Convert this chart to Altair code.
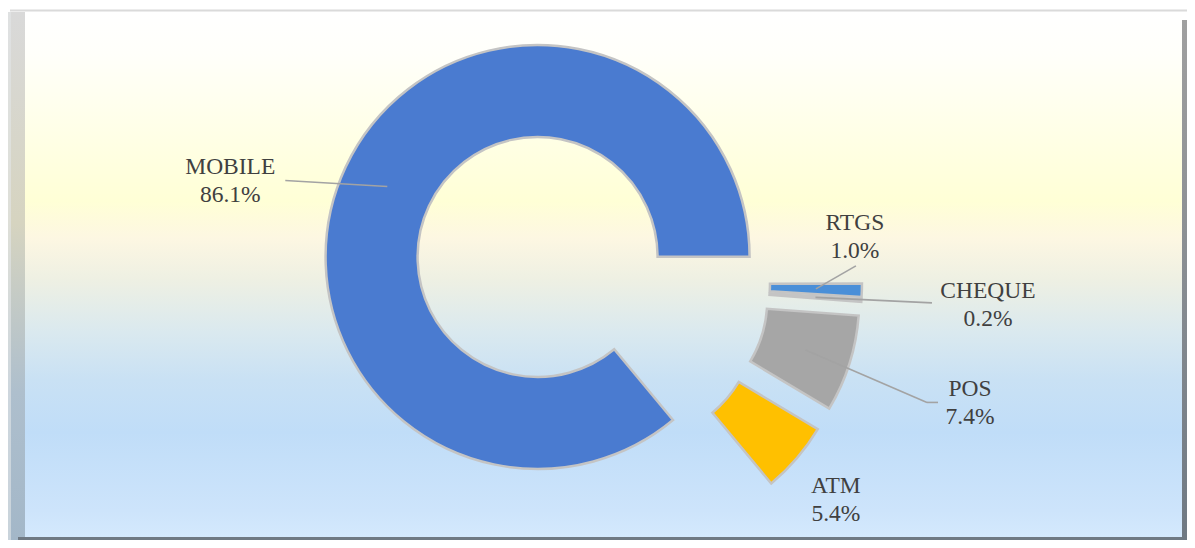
import math
import altair as alt
import pandas as pd

# ---------------- data ----------------
categories = ["MOBILE", "RTGS", "CHEQUE", "POS", "ATM"]
shares = [86.1, 1.0, 0.2, 7.4, 5.4]
pct_labels = ["86.1%", "1.0%", "0.2%", "7.4%", "5.4%"]
colors = ["#4a7bd0", "#4a8fd8", "#e6e6e6", "#a6a6a6", "#ffc000"]

# ---------------- layout / style ----------------
W, H = 1179, 532
CX, CY = 583, 274          # donut centre
R_IN, R_OUT = 120, 212
EXPLODE = 59               # every slice pulled out by this many px
R_ANCHOR = (R_IN + R_OUT) / 2 + EXPLODE
START = math.radians(140.3)
# label block offsets from the slice anchor, leader end offsets from label
label_dx = [-157, 39, 172.5, 164.5, 74]
label_dy = [-6, -53, 6.5, 52.5, 71]
lead_dx = [55, 1, -56, -43, 0]
lead_dy = [0, 30, -1, 0, 0]
has_lead = [1, 1, 1, 1, 0]
tail = [0, 0, 0, 11, 0]

FONT = "Liberation Serif"
TXT = "#404040"

df = pd.DataFrame({
    "category": categories,
    "share": shares,
    "pct": pct_labels,
    "color": colors,
    "order": list(range(len(categories))),
    "ldx": label_dx, "ldy": label_dy,
    "edx": lead_dx, "edy": lead_dy,
    "lead": has_lead, "tail": tail,
})
total = sum(shares)

base = alt.Chart(df).transform_window(
    cum="sum(share)", sort=[alt.SortField("order")], frame=[None, 0]
).transform_joinaggregate(
    total="sum(share)"
).transform_calculate(
    cum0="datum.cum - datum.share",
    mid=f"{START} + 2*PI*(datum.cum - datum.share/2)/datum.total",
    cx=f"{CX} + {EXPLODE}*sin(datum.mid)",
    cy=f"{CY} - {EXPLODE}*cos(datum.mid)",
    ax=f"{CX} + {R_ANCHOR}*sin(datum.mid)",
    ay=f"{CY} - {R_ANCHOR}*cos(datum.mid)",
    lx="datum.ax + datum.ldx",
    ly="datum.ay + datum.ldy",
    ex="datum.lx + datum.edx",
    ey="datum.ly + datum.edy",
    tx="datum.ex + datum.tail",
)

theta_scale = alt.Scale(domain=[0, total], range=[START, START + 2 * math.pi], nice=False)

arcs = base.mark_arc(
    innerRadius=R_IN, outerRadius=R_OUT, stroke="#c4c4c4", strokeWidth=2.5
).encode(
    x=alt.X("cx:Q", scale=None, axis=None, stack=False),
    y=alt.Y("cy:Q", scale=None, axis=None, stack=False),
    theta=alt.Theta("cum0:Q", scale=theta_scale),
    theta2="cum:Q",
    color=alt.Color("color:N", scale=None),
)

leaders = base.transform_filter("datum.lead == 1").mark_rule(
    color="#a3a3a3", strokeWidth=1.6
).encode(
    x=alt.X("ax:Q", scale=None, axis=None),
    y=alt.Y("ay:Q", scale=None, axis=None),
    x2="ex:Q",
    y2="ey:Q",
)

tails = base.transform_filter("datum.tail > 0").mark_rule(
    color="#a3a3a3", strokeWidth=1.6
).encode(
    x=alt.X("ex:Q", scale=None, axis=None),
    y=alt.Y("ey:Q", scale=None, axis=None),
    x2="tx:Q",
    y2="ey:Q",
)

names = base.mark_text(
    font=FONT, fontSize=23.5, color=TXT, align="center", baseline="alphabetic", dy=-6
).encode(
    x=alt.X("lx:Q", scale=None, axis=None),
    y=alt.Y("ly:Q", scale=None, axis=None),
    text="category:N",
)

pcts = base.mark_text(
    font=FONT, fontSize=23.5, color=TXT, align="center", baseline="alphabetic", dy=22
).encode(
    x=alt.X("lx:Q", scale=None, axis=None),
    y=alt.Y("ly:Q", scale=None, axis=None),
    text="pct:N",
)

# ---------------- frame decoration ----------------
one = alt.Data(values=[{"k": 1}])

bg_grad = alt.LinearGradient(
    gradient="linear", x1=0, y1=0, x2=0, y2=1,
    stops=[
        alt.GradientStop(offset=0.0, color="#ffffff"),
        alt.GradientStop(offset=0.08, color="#fffffa"),
        alt.GradientStop(offset=0.36, color="#ffffd6"),
        alt.GradientStop(offset=0.43, color="#fdf7e2"),
        alt.GradientStop(offset=0.51, color="#eef0e3"),
        alt.GradientStop(offset=0.61, color="#dae9ef"),
        alt.GradientStop(offset=0.70, color="#c9e1f4"),
        alt.GradientStop(offset=0.80, color="#c0ddf8"),
        alt.GradientStop(offset=0.95, color="#cde4fb"),
        alt.GradientStop(offset=1.0, color="#d4e9fd"),
    ],
)
background = alt.Chart(one).mark_rect(color=bg_grad).encode(
    x=alt.value(17), x2=alt.value(1174), y=alt.value(4), y2=alt.value(529)
)

bevel_grad = alt.LinearGradient(
    gradient="linear", x1=0, y1=0, x2=0, y2=1,
    stops=[
        alt.GradientStop(offset=0.0, color="#d9d9d9"),
        alt.GradientStop(offset=0.40, color="#d6d4c0"),
        alt.GradientStop(offset=0.72, color="#aebfcd"),
        alt.GradientStop(offset=1.0, color="#a3b7c8"),
    ],
)
left_bevel = alt.Chart(one).mark_rect(color=bevel_grad).encode(
    x=alt.value(0), x2=alt.value(17), y=alt.value(4), y2=alt.value(532)
)
left_edge = alt.Chart(one).mark_rect(color="#e2e6e8", opacity=0.6).encode(
    x=alt.value(0), x2=alt.value(3), y=alt.value(4), y2=alt.value(532)
)
top_line = alt.Chart(one).mark_rect(color="#dadada").encode(
    x=alt.value(2), x2=alt.value(W), y=alt.value(1.5), y2=alt.value(3.5)
)
right_grad = alt.LinearGradient(
    gradient="linear", x1=0, y1=0, x2=0, y2=1,
    stops=[
        alt.GradientStop(offset=0.0, color="#a0a0a0"),
        alt.GradientStop(offset=1.0, color="#6f7983"),
    ],
)
right_bar = alt.Chart(one).mark_rect(color=right_grad).encode(
    x=alt.value(1174), x2=alt.value(W), y=alt.value(12), y2=alt.value(H)
)
bottom_bar = alt.Chart(one).mark_rect(color="#6f7983").encode(
    x=alt.value(10), x2=alt.value(W), y=alt.value(529), y2=alt.value(H)
)

chart = alt.layer(
    background, left_bevel, left_edge, top_line, right_bar, bottom_bar,
    arcs, leaders, tails, names, pcts,
).properties(
    width=W, height=H, padding=0, autosize=alt.AutoSizeParams(type="none"),
    background="white",
).configure_view(strokeWidth=0)

chart.save("out.html", embed_options={"renderer": "svg", "actions": False})
